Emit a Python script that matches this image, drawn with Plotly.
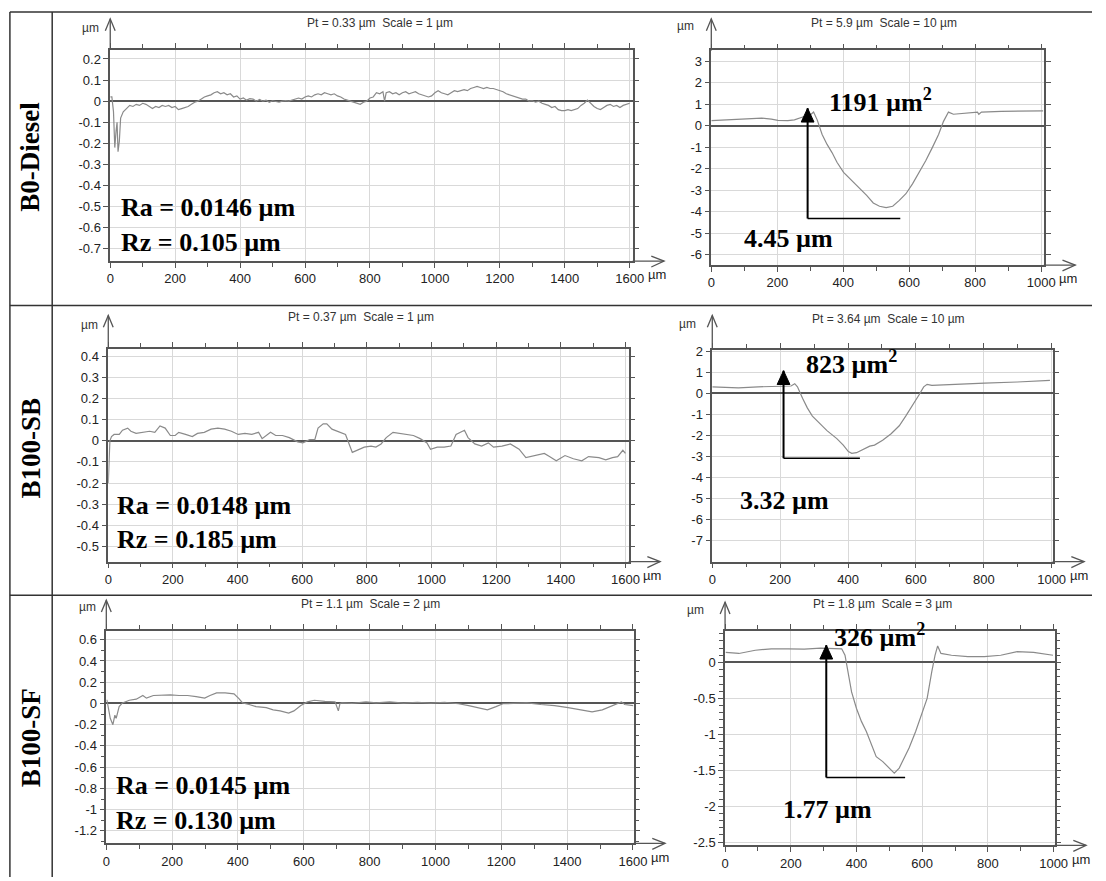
import plotly.graph_objects as go

# ---------------- data ----------------
row_labels = ["B0-Diesel", "B100-SB", "B100-SF"]

titles = ["Pt = 0.33 µm\u00a0 Scale = 1 µm", "Pt = 5.9 µm\u00a0 Scale = 10 µm",
          "Pt = 0.37 µm\u00a0 Scale = 1 µm", "Pt = 3.64 µm\u00a0 Scale = 10 µm",
          "Pt = 1.1 µm\u00a0 Scale = 2 µm", "Pt = 1.8 µm\u00a0 Scale = 3 µm"]

ra_labels = ["Ra = 0.0146 µm", "Ra = 0.0148 µm", "Ra = 0.0145 µm"]
rz_labels = ["Rz = 0.105 µm", "Rz = 0.185 µm", "Rz = 0.130 µm"]
ra_x = [27, 21, 23]
ra_y = [-0.506, -0.305, -0.772]
rz_y = [-0.67, -0.465, -1.098]

area_labels = ["1191 µm<sup>2</sup>", "823 µm<sup>2</sup>", "326 µm<sup>2</sup>"]
area_x = [351, 271, 326]
area_y = [1.19, 1.46, 0.38]
depth_labels = ["4.45 µm", "3.32 µm", "1.77 µm"]
depth_x = [93, 77, 171]
depth_y = [-5.22, -5.08, -2.05]
arrow_x = [292, 210, 308]
arrow_top = [0.81, 1.08, 0.24]
arrow_bottom = [-4.31, -3.08, -1.6]
bracket_end = [573, 435, 548]

x_ticks_long = [0, 200, 400, 600, 800, 1000, 1200, 1400, 1600]
x_ticks_long_text = ["0", "200", "400", "600", "800", "1000", "1200", "1400", "1600"]
x_ticks_short = [0, 200, 400, 600, 800, 1000]
x_ticks_short_text = ["0", "200", "400", "600", "800", "1000"]

y_ticks_1 = [0.2, 0.1, 0, -0.1, -0.2, -0.3, -0.4, -0.5, -0.6, -0.7]
y_ticks_1_text = ["0.2", "0.1", "0", "-0.1", "-0.2", "-0.3", "-0.4", "-0.5", "-0.6", "-0.7"]
y_ticks_2 = [3, 2, 1, 0, -1, -2, -3, -4, -5, -6]
y_ticks_2_text = ["3", "2", "1", "0", "-1", "-2", "-3", "-4", "-5", "-6"]
y_ticks_3 = [0.4, 0.3, 0.2, 0.1, 0, -0.1, -0.2, -0.3, -0.4, -0.5]
y_ticks_3_text = ["0.4", "0.3", "0.2", "0.1", "0", "-0.1", "-0.2", "-0.3", "-0.4", "-0.5"]
y_ticks_4 = [2, 1, 0, -1, -2, -3, -4, -5, -6, -7]
y_ticks_4_text = ["2", "1", "0", "-1", "-2", "-3", "-4", "-5", "-6", "-7"]
y_ticks_5 = [0.6, 0.4, 0.2, 0, -0.2, -0.4, -0.6, -0.8, -1, -1.2]
y_ticks_5_text = ["0.6", "0.4", "0.2", "0", "-0.2", "-0.4", "-0.6", "-0.8", "-1", "-1.2"]
y_ticks_6 = [0, -0.5, -1, -1.5, -2, -2.5]
y_ticks_6_text = ["0", "-0.5", "-1", "-1.5", "-2", "-2.5"]

# roughness profile B0-Diesel
b0_x = [
    0, 5, 10, 14, 18, 21, 24, 28, 32, 36,
    40, 50, 60, 70, 80, 90, 100, 110, 120, 130,
    140, 150, 160, 170, 180, 190, 200, 210, 220, 230,
    240, 250, 260, 270, 280, 290, 300, 310, 320, 330,
    340, 350, 360, 370, 380, 390, 400, 410, 420, 430,
    440, 450, 460, 470, 480, 490, 500, 510, 520, 530,
    540, 550, 560, 570, 580, 590, 600, 610, 620, 630,
    640, 650, 660, 670, 680, 690, 700, 710, 720, 730,
    740, 750, 760, 770, 780, 790, 800, 810, 820, 830,
    840, 845, 850, 860, 870, 880, 890, 900, 910, 920,
    930, 940, 950, 960, 970, 980, 990, 1000, 1010, 1020,
    1030, 1040, 1050, 1060, 1070, 1080, 1090, 1100, 1110, 1120,
    1130, 1140, 1150, 1160, 1170, 1180, 1190, 1200, 1210, 1220,
    1230, 1240, 1250, 1260, 1270, 1280, 1290, 1300, 1310, 1320,
    1330, 1340, 1350, 1360, 1370, 1380, 1390, 1400, 1410, 1420,
    1430, 1440, 1450, 1460, 1470, 1480, 1490, 1500, 1510, 1520,
    1530, 1540, 1550, 1560, 1570, 1580, 1590, 1600]
b0_y = [
    0.02, 0.02, -0.05, -0.22, -0.14, -0.1, -0.24, -0.19, -0.08, -0.06,
    -0.05, -0.035, -0.02, -0.025, -0.015, -0.02, -0.01, -0.015, -0.025, -0.035,
    -0.025, -0.03, -0.02, -0.025, -0.02, -0.03, -0.025, -0.04, -0.035, -0.03,
    -0.025, -0.015, -0.005, 0.0, 0.01, 0.02, 0.025, 0.03, 0.04, 0.045,
    0.035, 0.04, 0.03, 0.035, 0.02, 0.025, 0.01, 0.015, 0.005, 0.012,
    0.01, 0.0, 0.008, 0.0, 0.005, -0.005, 0.002, 0.0, -0.005, 0.0,
    0.003, 0.0, 0.005, 0.01, 0.015, 0.01, 0.02, 0.025, 0.02, 0.03,
    0.035, 0.03, 0.04, 0.035, 0.03, 0.035, 0.025, 0.02, 0.01, 0.005,
    0.0, -0.005, -0.01, -0.015, -0.005, 0.0, 0.015, 0.02, 0.04, 0.035,
    0.045, 0.0, 0.04, 0.045, 0.035, 0.04, 0.03, 0.04, 0.045, 0.035,
    0.04, 0.045, 0.035, 0.03, 0.025, 0.02, 0.025, 0.04, 0.05, 0.04,
    0.035, 0.03, 0.04, 0.05, 0.045, 0.05, 0.055, 0.05, 0.06, 0.065,
    0.07, 0.065, 0.06, 0.065, 0.06, 0.06, 0.055, 0.05, 0.045, 0.035,
    0.03, 0.025, 0.02, 0.015, 0.01, 0.01, 0.0, 0.002, -0.005, 0.0,
    -0.01, -0.015, -0.02, -0.03, -0.025, -0.04, -0.045, -0.045, -0.04, -0.045,
    -0.04, -0.035, -0.02, -0.01, 0.005, -0.01, -0.025, -0.035, -0.04, -0.03,
    -0.02, -0.015, -0.025, -0.02, -0.03, -0.02, -0.015, -0.01]

# roughness profile B100-SB
sb_x = [
    0, 5, 10, 18, 34, 44, 60, 70, 86, 107,
    128, 144, 160, 176, 192, 207, 218, 239, 260, 276,
    297, 318, 339, 360, 381, 402, 423, 444, 465, 476,
    502, 518, 539, 560, 586, 602, 623, 639, 649, 665,
    676, 692, 718, 734, 755, 771, 792, 813, 828, 844,
    860, 881, 902, 923, 944, 965, 986, 997, 1018, 1039,
    1060, 1076, 1092, 1102, 1113, 1134, 1155, 1176, 1192, 1218,
    1244, 1271, 1292, 1318, 1349, 1365, 1386, 1413, 1439, 1465,
    1486, 1518, 1539, 1560, 1576, 1592, 1600]
sb_y = [
    -0.2, 0.0, 0.02, 0.03, 0.03, 0.05, 0.06, 0.045, 0.035, 0.04,
    0.045, 0.04, 0.07, 0.06, 0.025, 0.025, 0.04, 0.03, 0.02, 0.035,
    0.04, 0.055, 0.06, 0.055, 0.045, 0.03, 0.035, 0.03, 0.04, 0.01,
    0.04, 0.025, 0.025, 0.015, -0.005, -0.01, 0.005, 0.005, 0.06, 0.08,
    0.08, 0.055, 0.04, 0.03, -0.055, -0.045, -0.03, -0.025, -0.03, -0.015,
    0.015, 0.04, 0.035, 0.03, 0.025, 0.01, -0.01, -0.04, -0.03, -0.03,
    -0.025, 0.03, 0.04, 0.05, 0.015, -0.015, -0.025, -0.01, -0.03, -0.025,
    -0.015, -0.04, -0.08, -0.07, -0.06, -0.075, -0.095, -0.07, -0.085, -0.095,
    -0.075, -0.08, -0.09, -0.08, -0.075, -0.045, -0.06]

# roughness profile B100-SF
sf_x = [
    0, 2, 12, 20, 26, 30, 39, 49, 70, 91,
    111, 122, 143, 169, 195, 221, 247, 273, 299, 315,
    335, 361, 388, 403, 414, 434, 455, 486, 507, 528,
    554, 570, 591, 611, 632, 664, 695, 705, 710, 716,
    747, 789, 820, 861, 903, 945, 986, 1028, 1070, 1101,
    1132, 1158, 1184, 1205, 1236, 1278, 1320, 1362, 1403, 1445,
    1476, 1507, 1539, 1565, 1575, 1601]
sf_y = [
    0.03, 0.03, -0.14, -0.2, -0.11, -0.14, -0.03, 0.005, 0.03, 0.04,
    0.075, 0.05, 0.075, 0.08, 0.08, 0.075, 0.075, 0.065, 0.05, 0.075,
    0.1, 0.1, 0.09, 0.045, 0.005, -0.01, -0.03, -0.04, -0.06, -0.07,
    -0.09, -0.07, -0.02, 0.015, 0.03, 0.02, 0.015, -0.07, 0.0, 0.005,
    0.0, 0.015, 0.005, 0.015, 0.003, 0.01, 0.003, 0.01, -0.003, -0.02,
    -0.045, -0.06, -0.03, -0.003, 0.0, 0.005, -0.01, -0.02, -0.04, -0.06,
    -0.08, -0.06, -0.02, 0.015, -0.01, -0.02]

# wear-scar profiles
d0_x = [0, 83, 153, 182, 202, 232, 252, 277, 297, 310,
        321, 336, 351, 366, 381, 401, 426, 451, 471, 491,
        510, 530, 550, 570, 590, 610, 630, 650, 670, 689,
        704, 719, 734, 779, 807, 811, 819, 879, 938, 1006]
d0_y = [0.23, 0.3, 0.35, 0.3, 0.25, 0.23, 0.27, 0.4, 0.45, 0.63,
        0.27, -0.41, -0.87, -1.25, -1.7, -2.17, -2.55, -2.93, -3.24, -3.59,
        -3.74, -3.8, -3.74, -3.47, -3.16, -2.7, -2.17, -1.63, -1.02, -0.41,
        0.2, 0.63, 0.53, 0.58, 0.63, 0.53, 0.63, 0.66, 0.69, 0.69]

d1_x = [0, 77, 135, 193, 232, 243, 251, 266, 280, 295,
        314, 338, 367, 386, 401, 411, 425, 440, 454, 464,
        478, 502, 527, 551, 570, 589, 609, 623, 633, 647,
        705, 802, 899, 995]
d1_y = [0.31, 0.26, 0.31, 0.35, 0.35, 0.46, 0.31, -0.23, -0.69, -1.08,
        -1.38, -1.77, -2.15, -2.46, -2.77, -2.85, -2.82, -2.69, -2.58, -2.51,
        -2.46, -2.23, -1.92, -1.54, -1.08, -0.62, -0.08, 0.31, 0.43, 0.38,
        0.43, 0.49, 0.54, 0.62]

d2_x = [2, 42, 92, 141, 191, 241, 291, 331, 355, 365,
        375, 385, 400, 415, 430, 445, 460, 480, 500, 515,
        530, 545, 560, 580, 600, 615, 629, 639, 647, 657,
        689, 739, 789, 839, 889, 939, 998]
d2_y = [0.14, 0.125, 0.17, 0.19, 0.19, 0.185, 0.2, 0.2, 0.19, 0.1,
        -0.18, -0.41, -0.64, -0.82, -0.96, -1.15, -1.31, -1.38, -1.47, -1.54,
        -1.47, -1.33, -1.19, -0.96, -0.71, -0.5, -0.13, 0.1, 0.23, 0.125,
        0.1, 0.08, 0.08, 0.1, 0.15, 0.14, 0.1]

# ---------------- layout (pixel geometry) ----------------
W, H = 1106, 881


def fx(p):
    return p / W


def fy(p):
    return 1 - p / H


frames = [(108, 44, 639, 258), (719, 45, 1057, 262), (106, 347, 635, 562),
          (720, 348, 1066, 562), (104, 632, 640, 847), (733, 632, 1068, 849)]
x_ranges = [[0, 1609], [0, 1008], [0, 1610], [0, 1003], [0, 1602], [0, 1003]]
y_ranges = [[-0.758, 0.245], [-6.47, 3.49], [-0.572, 0.434], [-8.0, 2.06],
            [-1.318, 0.684], [-2.545, 0.44]]
y_minor = [None, None, None, None, 0.1, 0.1]
y_arrow_tip = [13, 13, 313, 313, 601, 603]
um_pos = [(88, 22), (693, 20), (87, 323), (695, 322), (85, 608), (703, 611)]
title_pos = [(382, 17), (895, 17), (363, 315), (899, 317), (373, 605), (893, 605)]
label_rows_y = [153, 447, 740]

profiles = [(b0_x, b0_y), (d0_x, d0_y), (sb_x, sb_y), (d1_x, d1_y), (sf_x, sf_y), (d2_x, d2_y)]
yticks = [(y_ticks_1, y_ticks_1_text), (y_ticks_2, y_ticks_2_text), (y_ticks_3, y_ticks_3_text),
          (y_ticks_4, y_ticks_4_text), (y_ticks_5, y_ticks_5_text), (y_ticks_6, y_ticks_6_text)]

AX = '#555555'
GRID = '#d9d9d9'
CURVE = '#8a8a8a'
SANS = 'Liberation Sans, Arial, sans-serif'
SERIF = 'Liberation Serif, Times New Roman, serif'
TICKFONT = dict(family=SANS, size=13, color='#222')
BIG = dict(family=SERIF, size=26, color='black')

fig = go.Figure()
shapes = []
annotations = []
layout_axes = {}


def to_px(i, xv, yv):
    L, T, R, B = frames[i]
    x0, x1 = x_ranges[i]
    y0, y1 = y_ranges[i]
    return (L + (xv - x0) / (x1 - x0) * (R - L), B - (yv - y0) / (y1 - y0) * (B - T))


for i in range(6):
    L, T, R, B = frames[i]
    xn = 'x' if i == 0 else f'x{i+1}'
    yn = 'y' if i == 0 else f'y{i+1}'
    left = (i % 2 == 0)
    xt, xtt = (x_ticks_long, x_ticks_long_text) if left else (x_ticks_short, x_ticks_short_text)
    yt, ytt = yticks[i]

    xa = dict(domain=[fx(L), fx(R)], range=x_ranges[i], anchor=yn,
              tickmode='array', tickvals=xt, ticktext=xtt,
              ticks='outside', ticklen=5, tickwidth=1, tickcolor=AX,
              showline=True, linecolor=AX, linewidth=1.5, mirror='ticks',
              showgrid=True, gridcolor=GRID, gridwidth=1, zeroline=False,
              minor=dict(tickmode='linear', tick0=0, dtick=100, ticks='outside',
                         ticklen=4, tickwidth=1, tickcolor=AX, showgrid=False),
              tickfont=TICKFONT, fixedrange=True)
    ya = dict(domain=[fy(B), fy(T)], range=y_ranges[i], anchor=xn,
              tickmode='array', tickvals=yt, ticktext=ytt,
              ticks='outside', ticklen=5, tickwidth=1, tickcolor=AX,
              showline=True, linecolor=AX, linewidth=1.5, mirror='ticks',
              showgrid=True, gridcolor=GRID, gridwidth=1,
              zeroline=True, zerolinecolor=AX, zerolinewidth=1.5,
              tickfont=TICKFONT, fixedrange=True)
    if y_minor[i]:
        ya['minor'] = dict(tickmode='linear', tick0=0, dtick=y_minor[i], ticks='outside',
                           ticklen=4, tickwidth=1, tickcolor=AX, showgrid=False)
    layout_axes['xaxis' if i == 0 else f'xaxis{i+1}'] = xa
    layout_axes['yaxis' if i == 0 else f'yaxis{i+1}'] = ya

    px_, py_ = profiles[i]
    fig.add_trace(go.Scatter(x=px_, y=py_, mode='lines', xaxis=xn, yaxis=yn,
                             line=dict(color=CURVE, width=1.2), hoverinfo='skip',
                             showlegend=False))

    # axis extensions with open arrow heads
    tip = y_arrow_tip[i]
    shapes.append(dict(type='line', xref='paper', yref='paper', x0=fx(L), x1=fx(L),
                       y0=fy(T), y1=fy(tip), line=dict(color=AX, width=1.3)))
    shapes.append(dict(type='path', xref='paper', yref='paper',
                       path=f'M {fx(L-5)},{fy(tip+12)} L {fx(L)},{fy(tip)} L {fx(L+5)},{fy(tip+12)}',
                       line=dict(color=AX, width=1.3)))
    xt_tip = R + 32
    shapes.append(dict(type='line', xref='paper', yref='paper', x0=fx(R), x1=fx(xt_tip),
                       y0=fy(B), y1=fy(B), line=dict(color=AX, width=1.3)))
    shapes.append(dict(type='path', xref='paper', yref='paper',
                       path=f'M {fx(xt_tip-13)},{fy(B-5)} L {fx(xt_tip)},{fy(B)} L {fx(xt_tip-13)},{fy(B+6)}',
                       line=dict(color=AX, width=1.3)))

    # 'µm' unit labels
    ux, uy = um_pos[i]
    annotations.append(dict(text='µm', xref='paper', yref='paper', x=fx(ux), y=fy(uy),
                            showarrow=False, xanchor='center', yanchor='middle',
                            font=dict(family=SANS, size=12, color='#333')))
    annotations.append(dict(text='µm', xref=xn, yref='paper', x=xt[-1], xshift=27, y=fy(B + 14),
                            showarrow=False, xanchor='center', yanchor='middle',
                            font=TICKFONT))
    # panel title
    tx, ty = title_pos[i]
    annotations.append(dict(text=titles[i], xref='paper', yref='paper', x=fx(tx), y=fy(ty),
                            showarrow=False, xanchor='center', yanchor='middle',
                            font=dict(family=SANS, size=12, color='#333')))

    r = i // 2
    if left:
        annotations.append(dict(text=f'<b>{ra_labels[r]}</b>', xref=xn, yref=yn, x=ra_x[r], y=ra_y[r],
                                showarrow=False, xanchor='left', yanchor='middle', font=BIG))
        annotations.append(dict(text=f'<b>{rz_labels[r]}</b>', xref=xn, yref=yn, x=ra_x[r], y=rz_y[r],
                                showarrow=False, xanchor='left', yanchor='middle', font=BIG))
    else:
        # depth bracket with filled arrow head
        shapes.append(dict(type='line', xref=xn, yref=yn, x0=arrow_x[r], x1=bracket_end[r],
                           y0=arrow_bottom[r], y1=arrow_bottom[r], line=dict(color='black', width=1.5)))
        shapes.append(dict(type='line', xref=xn, yref=yn, x0=arrow_x[r], x1=arrow_x[r],
                           y0=arrow_bottom[r], y1=arrow_top[r], line=dict(color='black', width=2)))
        tx_, ty_ = to_px(i, arrow_x[r], arrow_top[r])
        shapes.append(dict(type='path', xref='paper', yref='paper',
                           path=(f'M {fx(tx_)},{fy(ty_)} L {fx(tx_-6.5)},{fy(ty_+14)} '
                                 f'L {fx(tx_+6.5)},{fy(ty_+14)} Z'),
                           fillcolor='black', line=dict(color='black', width=1)))
        annotations.append(dict(text=f'<b>{area_labels[r]}</b>', xref=xn, yref=yn, x=area_x[r], y=area_y[r],
                                showarrow=False, xanchor='left', yanchor='middle', font=BIG))
        annotations.append(dict(text=f'<b>{depth_labels[r]}</b>', xref=xn, yref=yn, x=depth_x[r], y=depth_y[r],
                                showarrow=False, xanchor='left', yanchor='middle', font=BIG))

# row labels
for r in range(3):
    annotations.append(dict(text=f'<b>{row_labels[r]}</b>', xref='paper', yref='paper',
                            x=fx(27), y=fy(label_rows_y[r]), textangle=-90,
                            showarrow=False, xanchor='center', yanchor='middle',
                            font=dict(family=SERIF, size=27, color='black')))

# table lines
TBL = '#333333'
for yy in [6, 303, 596]:
    shapes.append(dict(type='line', xref='paper', yref='paper', x0=fx(6), x1=1,
                       y0=fy(yy), y1=fy(yy), line=dict(color=TBL, width=1.5)))
for xx in [6, 49]:
    shapes.append(dict(type='line', xref='paper', yref='paper', x0=fx(xx), x1=fx(xx),
                       y0=fy(6), y1=0, line=dict(color=TBL, width=1.5)))

fig.update_layout(width=W, height=H, autosize=False,
                  margin=dict(l=0, r=0, t=0, b=0, pad=0),
                  paper_bgcolor='white', plot_bgcolor='white',
                  showlegend=False, font=dict(family=SANS, size=12, color='#222'),
                  shapes=shapes, annotations=annotations, **layout_axes)

fig.write_html("out.html")
